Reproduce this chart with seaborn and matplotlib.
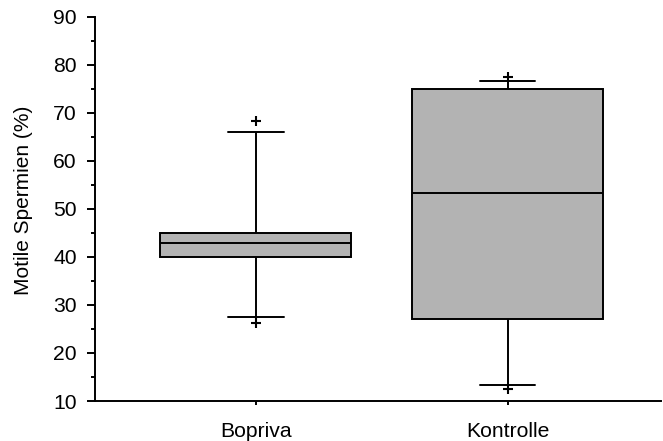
import pandas as pd
import numpy as np
import seaborn as sns
import matplotlib.pyplot as plt
from matplotlib.ticker import MultipleLocator

# Box summaries: lower whisker, Q1, median, Q3, upper whisker
groups = ['Bopriva', 'Kontrolle']
bopriva_stats = [27.5, 40.0, 43.0, 45.0, 66.0]
kontrolle_stats = [13.3, 27.0, 53.3, 75.0, 76.7]

# '+' markers beyond the whiskers
flier_groups = ['Bopriva', 'Bopriva', 'Kontrolle', 'Kontrolle']
flier_values = [68.3, 26.2, 77.6, 12.4]

sns.set_theme(style='ticks')
plt.rcParams['font.family'] = ['Liberation Sans', 'DejaVu Sans']

# five values per group -> percentiles 0/25/50/75/100 reproduce the summary
boxes = pd.DataFrame({
    'group': ['Bopriva'] * 5 + ['Kontrolle'] * 5,
    'value': bopriva_stats + kontrolle_stats,
})
fliers = pd.DataFrame({'group': flier_groups, 'value': flier_values})

fig = plt.figure(figsize=(6.63, 4.41), dpi=100)
ax = fig.add_axes([0.143, 0.0907, 0.854, 0.8708])

lw = 1.4
sns.boxplot(data=boxes, x='group', y='value', order=groups, whis=(0, 100),
            width=0.76, color='#b3b3b3', saturation=1, linewidth=lw,
            showfliers=False, ax=ax,
            boxprops=dict(facecolor='#b3b3b3', edgecolor='black', linewidth=lw),
            medianprops=dict(color='black', linewidth=lw),
            whiskerprops=dict(color='black', linewidth=lw),
            capprops=dict(color='black', linewidth=lw),
            capwidths=0.22)
sns.stripplot(data=fliers, x='group', y='value', order=groups, jitter=False,
              marker='+', color='black', size=7, linewidth=1.5, ax=ax)

ax.set_ylim(10, 90)
ax.set_xlim(-0.64, 1.61)
ax.yaxis.set_major_locator(MultipleLocator(10))
ax.yaxis.set_minor_locator(MultipleLocator(5))
ax.set_xlabel('')
ax.set_ylabel('Motile Spermien (%)', fontsize=15, color='black')
ax.yaxis.set_label_coords(-0.11, 0.523)

sns.despine(ax=ax)
for s in ['left', 'bottom']:
    ax.spines[s].set_linewidth(1.4)
    ax.spines[s].set_color('black')
ax.tick_params(axis='y', which='major', length=6, width=1.4, labelsize=15.2,
               colors='black', labelcolor='black', pad=7)
ax.tick_params(axis='y', which='minor', length=3, width=1.4, colors='black')
ax.tick_params(axis='x', which='major', length=3, width=1.4, labelsize=15.2,
               colors='black', labelcolor='black', pad=12)

fig.savefig('out.png', dpi=100)
